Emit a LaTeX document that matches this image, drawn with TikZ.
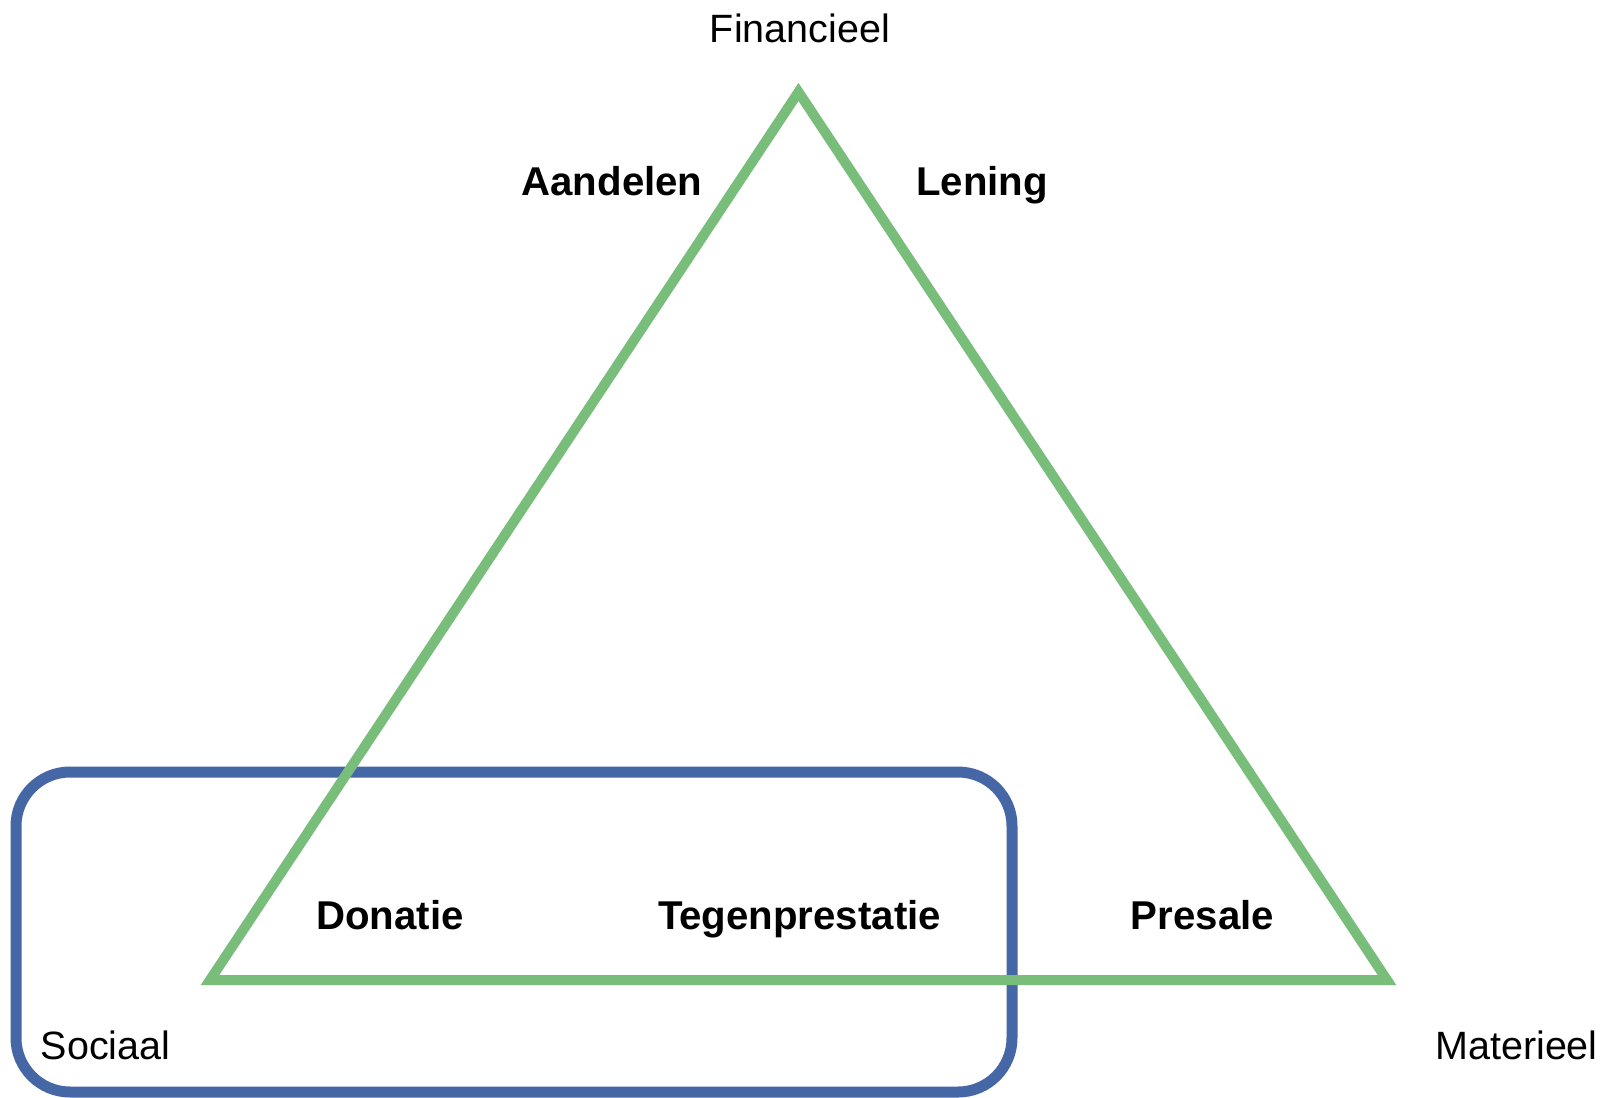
\documentclass[tikz,border=0pt]{standalone}
\usepackage{fontspec}
\setmainfont{Liberation Sans}
\definecolor{trigreen}{RGB}{120,190,122}
\definecolor{boxblue}{RGB}{69,103,166}

\begin{document}
\begin{tikzpicture}[x=0.5pt, y=-0.5pt,
		cornertext/.style={anchor=base, inner sep=0pt, font=\fontsize{19.75}{24}\selectfont},
		formtext/.style={cornertext, font=\fontsize{20.1}{24}\selectfont\bfseries}]
		%%%%% START %%%%%
		\useasboundingbox (0, 0) rectangle (1602, 1098);
		
		\draw[line width=5.5pt, color=boxblue, rounded corners=27pt] (16, 772) rectangle (1012, 1092);
		
		\coordinate (top) at (798.5, 92);
		\coordinate (left) at (210, 980);
		\coordinate (right) at (1387, 980);
		\draw[line width=5pt, color=trigreen] (top) -- (left) -- (right) -- cycle;
		
		\node[cornertext] (financieel) at (800, 42) {Financieel};
		\node[cornertext] (sociaal) at (105.5, 1059) {Sociaal};
		\node[cornertext] (materieel) at (1516.5, 1059) {Materieel};
		
		\node[formtext] (aandelen) at (612, 195) {Aandelen};
		\node[formtext] (lening) at (982, 195) {Lening};
		\node[formtext] (donatie) at (390, 929) {Donatie};
		\node[formtext] (tegenprestatie) at (799.5, 929) {Tegenprestatie};
		\node[formtext] (presale) at (1202.5, 929) {Presale};
		
		%%%%% END %%%%%
	\end{tikzpicture}
\end{document}
